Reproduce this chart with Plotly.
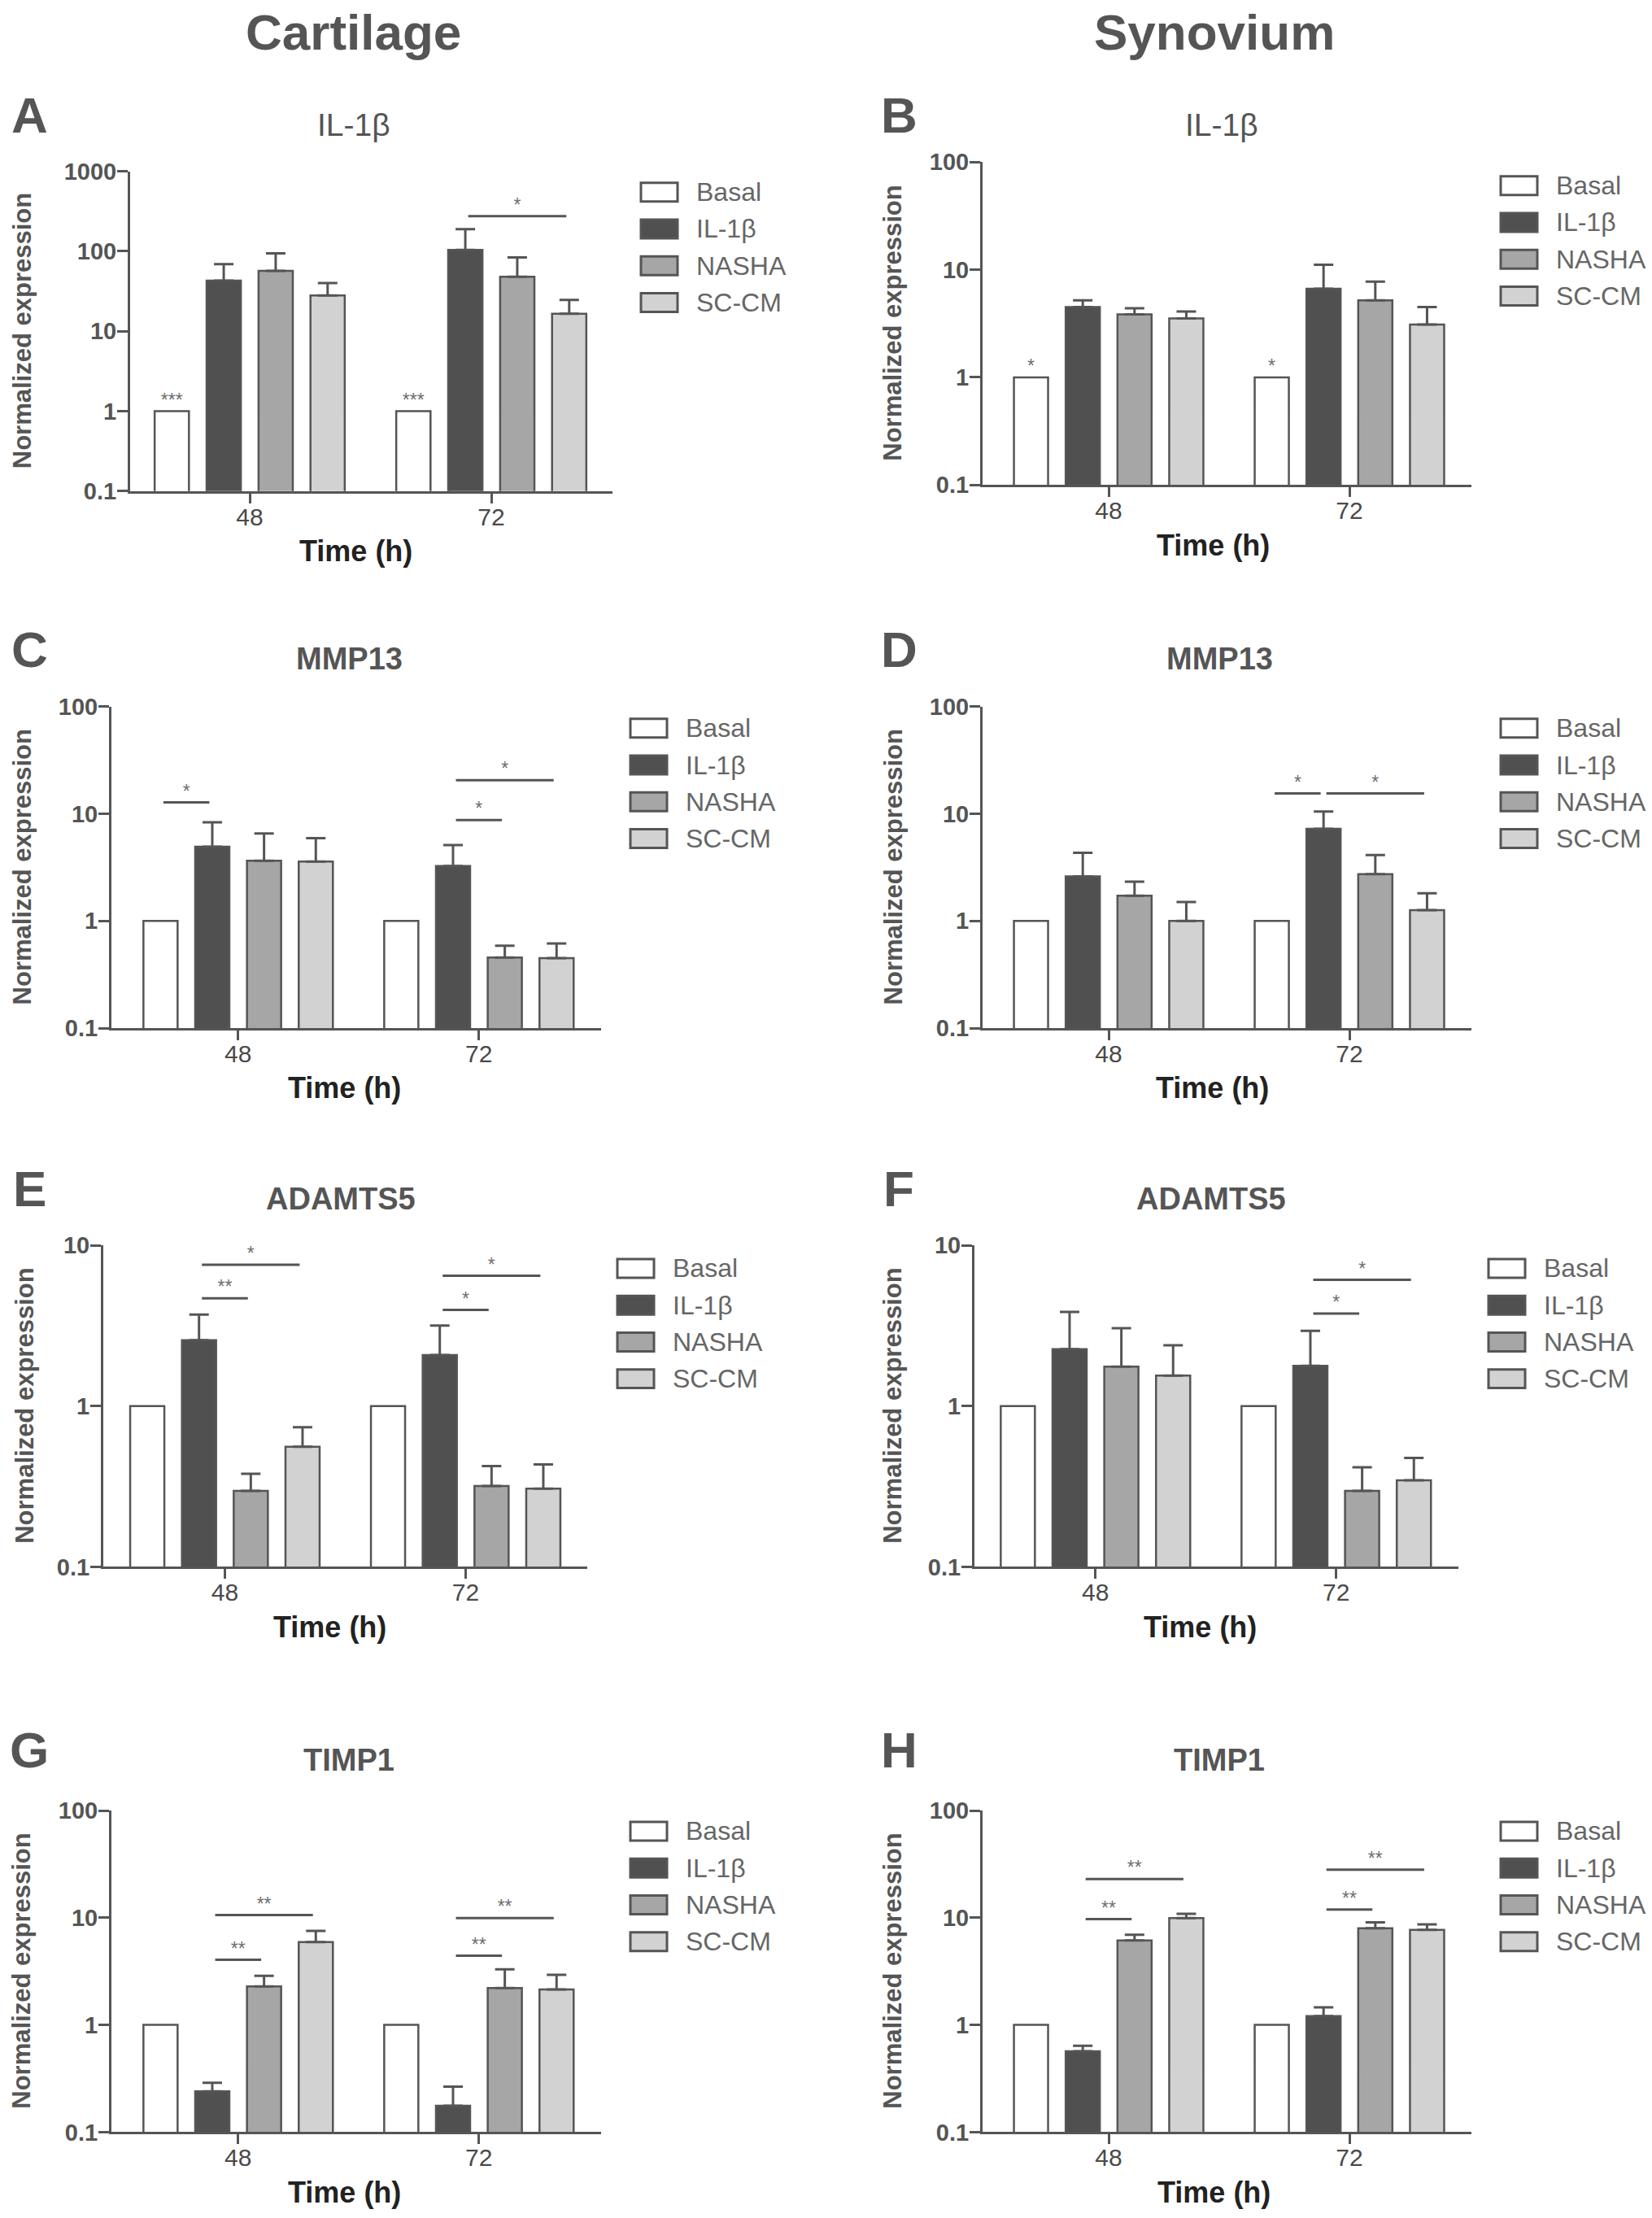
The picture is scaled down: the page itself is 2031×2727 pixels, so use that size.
import plotly.graph_objects as go

W, H = 2031, 2727
FONT = "Liberation Sans, Arial, sans-serif"
EDGE = "#555555"

GROUPS = ["Basal", "IL-1β", "NASHA", "SC-CM"]
TIMES = ["48", "72"]
FILLS = ["#ffffff", "#505050", "#a6a6a6", "#d2d2d2"]
Y_TICKS = [0.1, 1, 10, 100, 1000]
Y_TICK_TEXT = ["0.1", "1", "10", "100", "1000"]

# mean values, one list per group (Basal, IL-1β, NASHA, SC-CM), values for 48 h and 72 h
A_MEAN = [[1, 1], [43, 104], [57, 48], [28, 16.5]]
A_ERR = [[0, 0], [26, 85], [37, 36], [12, 8.2]]
B_MEAN = [[1, 1], [4.5, 6.65], [3.84, 5.19], [3.52, 3.1]]
B_ERR = [[0, 0], [0.7, 4.45], [0.55, 2.57], [0.56, 1.4]]
C_MEAN = [[1, 1], [4.94, 3.26], [3.65, 0.456], [3.58, 0.45]]
C_ERR = [[0, 0], [3.4, 1.85], [2.9, 0.13], [2.35, 0.167]]
D_MEAN = [[1, 1], [2.61, 7.24], [1.72, 2.74], [1.0, 1.26]]
D_ERR = [[0, 0], [1.71, 3.26], [0.61, 1.38], [0.5, 0.55]]
E_MEAN = [[1, 1], [2.57, 2.08], [0.297, 0.318], [0.559, 0.307]]
E_ERR = [[0, 0], [1.14, 1.09], [0.082, 0.106], [0.179, 0.127]]
F_MEAN = [[1, 1], [2.26, 1.78], [1.76, 0.297], [1.55, 0.346]]
F_ERR = [[0, 0], [1.59, 1.16], [1.29, 0.119], [0.84, 0.13]]
G_MEAN = [[1, 1], [0.240, 0.176], [2.29, 2.21], [5.92, 2.14]]
G_ERR = [[0, 0], [0.049, 0.09], [0.58, 1.09], [1.62, 0.79]]
H_MEAN = [[1, 1], [0.568, 1.21], [6.13, 7.96], [9.93, 7.69]]
H_ERR = [[0, 0], [0.071, 0.25], [0.81, 1.11], [0.97, 0.96]]

# significance brackets: (time index, from group, to group, level, label)
A_SIG = [(1, 1, 3, 275, "*")]
B_SIG = []
C_SIG = [(0, 0, 1, 12.8, "*"), (1, 1, 2, 8.75, "*"), (1, 1, 3, 20.6, "*")]
D_SIG = [(1, 0, 1, 15.5, "*"), (1, 1, 3, 15.5, "*")]
E_SIG = [(0, 1, 2, 4.69, "**"), (0, 1, 3, 7.58, "*"), (1, 1, 2, 3.97, "*"), (1, 1, 3, 6.48, "*")]
F_SIG = [(1, 1, 2, 3.76, "*"), (1, 1, 3, 6.1, "*")]
G_SIG = [(0, 1, 2, 4.05, "**"), (0, 1, 3, 10.6, "**"), (1, 1, 2, 4.43, "**"), (1, 1, 3, 9.93, "**")]
H_SIG = [(0, 1, 2, 9.73, "**"), (0, 1, 3, 23.0, "**"), (1, 1, 2, 11.9, "**"), (1, 1, 3, 28.1, "**")]
# marks above the Basal bars: (time index, label)
A_MARK = [(0, "***"), (1, "***")]
B_MARK = [(0, "*"), (1, "*")]

COLUMN_HEADERS = ["Cartilage", "Synovium"]

panels = [
    dict(letter="A", title="IL-1β", bold=False, mean=A_MEAN, err=A_ERR, sig=A_SIG, mark=A_MARK, top=3,
         box=(160, 753, 307, 604, 209.5, 603), legend=(788, 235), title_y=152, title_x=435, time_x=437, ytx=27),
    dict(letter="B", title="IL-1β", bold=False, mean=B_MEAN, err=B_ERR, sig=B_SIG, mark=B_MARK, top=2,
         box=(1208, 1809, 1363, 1659, 198, 595.5), legend=(1845, 227), title_y=152, title_x=1502, time_x=1491, ytx=1098),
    dict(letter="C", title="MMP13", bold=True, mean=C_MEAN, err=C_ERR, sig=C_SIG, mark=[], top=2,
         box=(137, 738.5, 292.8, 588.8, 868.5, 1264.2), legend=(775, 895), title_y=810, title_x=429, time_x=423, ytx=27),
    dict(letter="D", title="MMP13", bold=True, mean=D_MEAN, err=D_ERR, sig=D_SIG, mark=[], top=2,
         box=(1208, 1809, 1363, 1659, 868.5, 1264.2), legend=(1845, 895), title_y=810, title_x=1499, time_x=1490, ytx=1098),
    dict(letter="E", title="ADAMTS5", bold=True, mean=E_MEAN, err=E_ERR, sig=E_SIG, mark=[], top=1,
         box=(127, 722, 276.5, 572.5, 1531.7, 1927.5), legend=(759, 1560), title_y=1474, title_x=419, time_x=405, ytx=31),
    dict(letter="F", title="ADAMTS5", bold=True, mean=F_MEAN, err=F_ERR, sig=F_SIG, mark=[], top=1,
         box=(1198, 1792.5, 1346.8, 1642.8, 1531.7, 1927.5), legend=(1830, 1560), title_y=1474, title_x=1489, time_x=1475, ytx=1098),
    dict(letter="G", title="TIMP1", bold=True, mean=G_MEAN, err=G_ERR, sig=G_SIG, mark=[], top=2,
         box=(137, 738.5, 292.8, 588.8, 2227.5, 2623.4), legend=(775, 2253), title_y=2165, title_x=429, time_x=423, ytx=27),
    dict(letter="H", title="TIMP1", bold=True, mean=H_MEAN, err=H_ERR, sig=H_SIG, mark=[], top=2,
         box=(1208, 1809, 1363, 1659, 2227.5, 2623.4), legend=(1845, 2253), title_y=2165, title_x=1499, time_x=1492, ytx=1098),
]

BARGAP = 0.14
SLOT = (1 - BARGAP) / len(GROUPS)

# vertical calibration of the rendered page
Y_OFF, Y_SCALE = 14.5, 0.9896


def px(x):
    return x / W


def py(y):
    y = (y - Y_OFF) / Y_SCALE
    return 1 - y / H


fig = go.Figure()
layout = {}
annotations = []
shapes = []

for i, p in enumerate(panels):
    n = "" if i == 0 else str(i + 1)
    xa, ya = "x" + n, "y" + n
    xl, xr, x48, x72, yt, yb = p["box"]
    unit = x72 - x48
    xpos = list(range(len(TIMES)))

    for k, g in enumerate(GROUPS):
        fig.add_trace(go.Bar(
            x=xpos, y=p["mean"][k], name=g, xaxis=xa, yaxis=ya, showlegend=False,
            marker=dict(color=FILLS[k], line=dict(color=EDGE, width=2.5)),
            error_y=dict(type="data", symmetric=False, array=p["err"][k], arrayminus=[0] * len(TIMES),
                         color=EDGE, thickness=3, width=12, visible=(k > 0)),
        ))

    inset = 0.012
    for (t, a, b, yv, lab) in p["sig"]:
        x0 = t + (a - 1.5) * SLOT + inset
        x1 = t + (b - 1.5) * SLOT - inset
        fig.add_trace(go.Scatter(x=[x0, x1], y=[yv, yv], mode="lines", xaxis=xa, yaxis=ya,
                                 line=dict(color=EDGE, width=3), showlegend=False, hoverinfo="skip"))
        fig.add_trace(go.Scatter(x=[(x0 + x1) / 2], y=[yv], mode="text", text=[lab], xaxis=xa, yaxis=ya,
                                 textposition="top center", textfont=dict(size=23, color="#707070", family=FONT),
                                 showlegend=False, hoverinfo="skip"))
    for (t, lab) in p["mark"]:
        fig.add_trace(go.Scatter(x=[t - 1.5 * SLOT], y=[p["mean"][0][t]], mode="text", text=[lab],
                                 xaxis=xa, yaxis=ya, textposition="top center",
                                 textfont=dict(size=23, color="#707070", family=FONT),
                                 showlegend=False, hoverinfo="skip"))

    layout["xaxis" + n] = dict(
        domain=[px(xl), px(xr)], range=[(xl - x48) / unit, (xr - x48) / unit], anchor=ya,
        tickvals=xpos, ticktext=TIMES, showline=True, linecolor=EDGE, linewidth=3,
        ticks="outside", ticklen=12, tickwidth=3, tickcolor=EDGE, ticklabelstandoff=-9,
        tickfont=dict(size=30, color="#4a4a4a", family=FONT),
        showgrid=False, zeroline=False, fixedrange=True)
    nt = p["top"] + 2
    layout["yaxis" + n] = dict(
        domain=[py(yb), py(yt)], type="log", range=[-1, p["top"]], anchor=xa,
        tickvals=Y_TICKS[:nt], ticktext=Y_TICK_TEXT[:nt], showline=True, linecolor=EDGE, linewidth=3,
        ticks="outside", ticklen=13, tickwidth=3, tickcolor=EDGE, ticklabelstandoff=-5,
        tickfont=dict(size=29, color="#555555", family=FONT, weight="bold"),
        showgrid=False, zeroline=False, fixedrange=True)

    # panel letter
    lx = 36 if i % 2 == 0 else 1105
    annotations.append(dict(text=p["letter"], x=px(lx), y=py(p["title_y"] - 12), xref="paper", yref="paper",
                            xanchor="center", yanchor="middle", showarrow=False,
                            font=dict(size=62, color="#555555", family=FONT, weight="bold")))
    # panel title
    annotations.append(dict(text=p["title"], x=px(p["title_x"]), y=py(p["title_y"]), xref="paper", yref="paper",
                            xanchor="center", yanchor="middle", showarrow=False,
                            font=dict(size=38 if p["bold"] else 39, color="#555555", family=FONT,
                                      weight="bold" if p["bold"] else "normal")))
    # y title
    annotations.append(dict(text="Normalized expression", x=px(p["ytx"]), y=py((yt + yb) / 2),
                            xref="paper", yref="paper", xanchor="center", yanchor="middle", textangle=-90,
                            showarrow=False, font=dict(size=31, color="#555555", family=FONT, weight="bold")))
    # x title
    annotations.append(dict(text="Time (h)", x=px(p["time_x"]), y=py(yb + 74), xref="paper", yref="paper",
                            xanchor="center", yanchor="middle", showarrow=False,
                            font=dict(size=36, color="#222222", family=FONT, weight="bold")))
    # legend
    bx, by = p["legend"]
    for k, g in enumerate(GROUPS):
        cy = by + k * 45.3
        shapes.append(dict(type="rect", xref="paper", yref="paper", x0=px(bx), x1=px(bx + 45),
                           y0=py(cy + 11.5), y1=py(cy - 11.5), fillcolor=FILLS[k],
                           line=dict(color=EDGE, width=3)))
        annotations.append(dict(text=g, x=px(bx + 66), y=py(cy), xref="paper", yref="paper",
                                xanchor="left", yanchor="middle", showarrow=False,
                                font=dict(size=32, color="#666666", family=FONT)))

for j, hdr in enumerate(COLUMN_HEADERS):
    annotations.append(dict(text=hdr, x=px([434, 1493][j]), y=py(38), xref="paper", yref="paper",
                            xanchor="center", yanchor="middle", showarrow=False,
                            font=dict(size=62, color="#555555", family=FONT, weight="bold")))

fig.update_layout(
    width=W, height=H, autosize=False,
    margin=dict(l=0, r=0, t=0, b=0, pad=0),
    paper_bgcolor="white", plot_bgcolor="white",
    barmode="group", bargap=BARGAP, bargroupgap=0.34,
    annotations=annotations, shapes=shapes, showlegend=False,
    font=dict(family=FONT, color="#555555"),
    **layout,
)

RESET_CSS = (
    "var s=document.createElement('style');"
    "s.innerHTML='html,body{margin:0;padding:0;overflow:hidden;}';"
    "document.head.appendChild(s);"
)

fig.write_html("out.html", config={"displayModeBar": False}, post_script=RESET_CSS)
